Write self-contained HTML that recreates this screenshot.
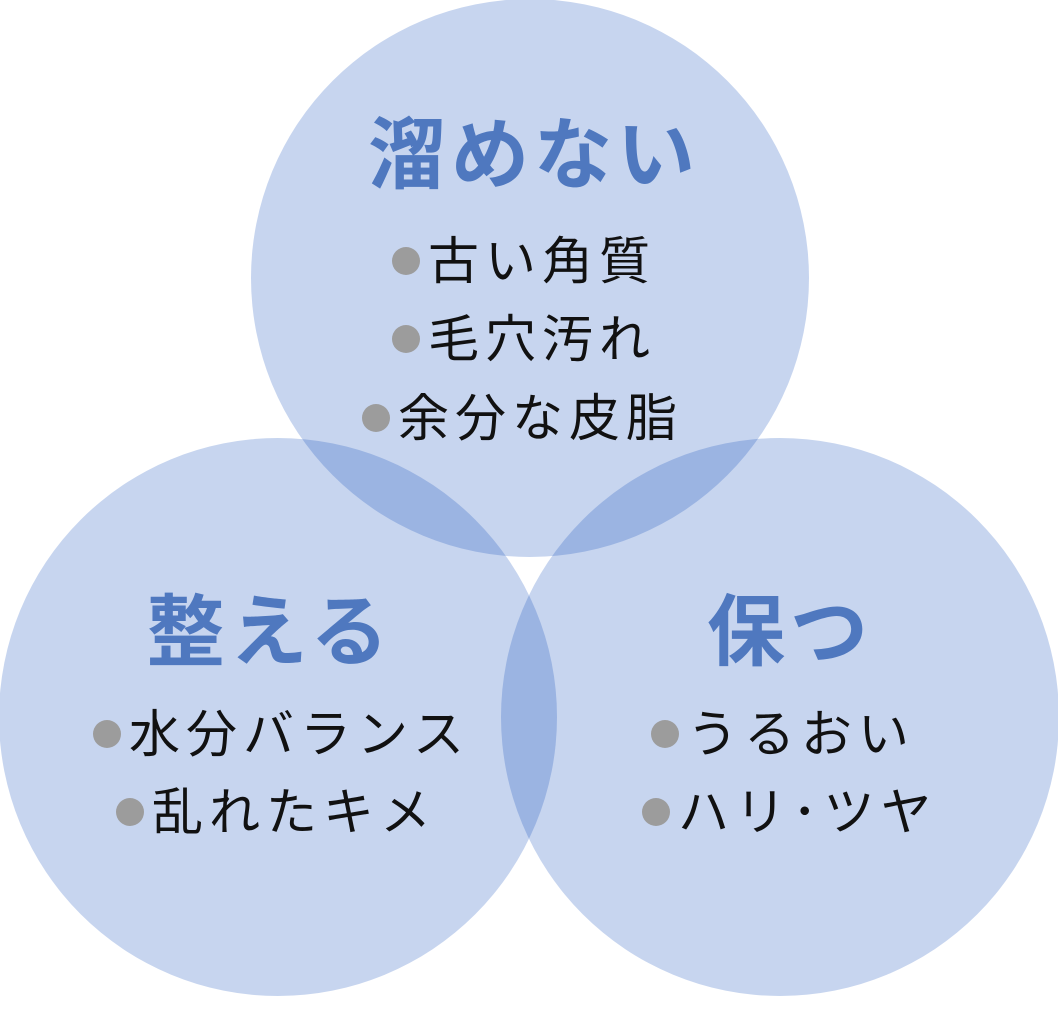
<!DOCTYPE html>
<html><head><meta charset="utf-8"><style>
body{margin:0;width:1058px;height:1010px;background:#fff;overflow:hidden;position:relative;font-family:"Liberation Sans","Noto Sans CJK JP",sans-serif}
.c{position:absolute;width:558px;height:558px;border-radius:50%;background:rgba(5,68,182,0.225)}
.t{position:absolute;color:#4f78bf;font-weight:bold;font-size:78px;letter-spacing:5px;line-height:1;white-space:nowrap;transform:translateX(-50%)}
.i{position:absolute;font-size:51px;letter-spacing:6px;line-height:1;color:#111;white-space:nowrap}
.i:before{content:"";display:inline-block;width:28px;height:28px;border-radius:50%;background:#9c9c9c;margin-right:8px;vertical-align:4px}
</style></head><body>
<div class="c" style="left:251px;top:-1px"></div>
<div class="c" style="left:-1px;top:438px"></div>
<div class="c" style="left:501px;top:438px"></div>
<div class="t" style="left:534px;top:116px">溜めない</div>
<div class="i" style="left:392px;top:236px">古い角質</div>
<div class="i" style="left:392px;top:314px">毛穴汚れ</div>
<div class="i" style="left:362px;top:393px">余分な皮脂</div>
<div class="t" style="left:270px;top:593px">整える</div>
<div class="i" style="left:93px;top:709px">水分バランス</div>
<div class="i" style="left:116px;top:787px">乱れたキメ</div>
<div class="t" style="left:790px;top:593px">保つ</div>
<div class="i" style="left:651px;top:709px">うるおい</div>
<div class="i" style="left:642px;top:787px">ハリ･ツヤ</div>
</body></html>
